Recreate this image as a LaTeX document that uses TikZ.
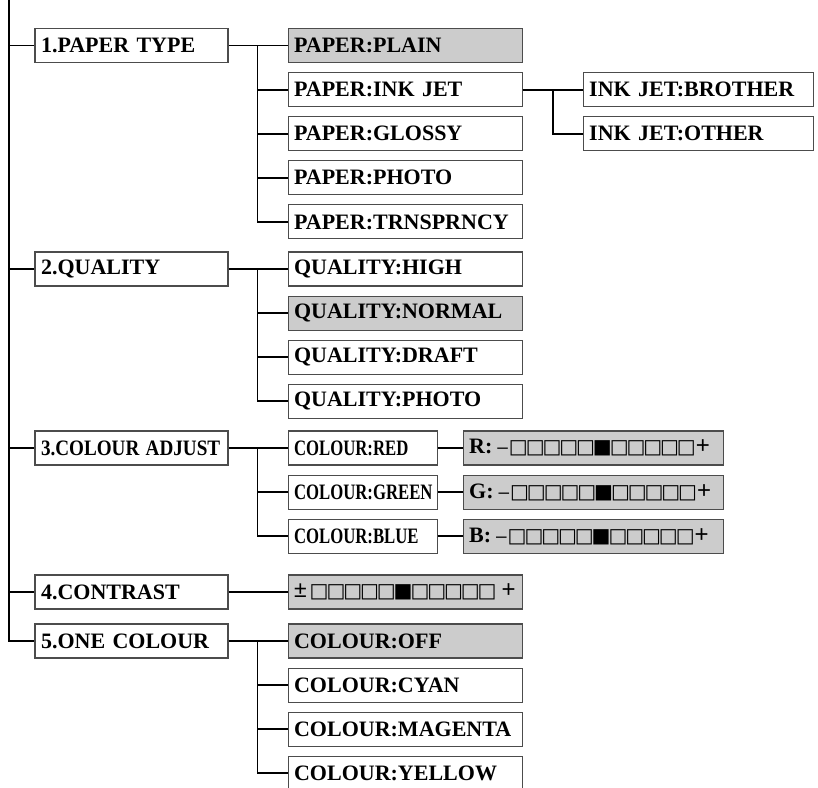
\documentclass[tikz,border=0pt]{standalone}
\usepackage{fontspec}
\usepackage{graphicx}
\setmainfont{Liberation Serif}
\setsansfont{Liberation Sans}
\newfontfamily\symfont{DejaVu Sans}
\usetikzlibrary{positioning}
\newcommand\sqempty{\makebox[16.8pt]{\symfont\mdseries\fontsize{20}{20}\selectfont □}}
\newcommand\sqfull{\makebox[16.8pt]{\symfont\mdseries\fontsize{20}{20}\selectfont ■}}
\newcommand\sqrow{\sqempty\sqempty\sqempty\sqempty\sqempty\sqfull\sqempty\sqempty\sqempty\sqempty\sqempty}
\newcommand\signtxt[2]{{\sffamily\mdseries\fontsize{#1}{#1}\selectfont #2}}
\newcommand\levelbar[1]{#1\kern5pt\signtxt{19}{–}\kern2pt\sqrow\kern1pt\signtxt{24}{+}}
\tikzset{
    menu/.style={draw=black!70, line width=1.1pt, fill=white, minimum height=34pt, inner xsep=6pt, inner ysep=0pt, align=left, font=\fontsize{22}{26}\selectfont\bfseries},
    topbox/.style={menu, text width=181pt},
    itembox/.style={menu, text width=222pt},
    subbox/.style={menu, text width=218pt},
    narrowbox/.style={menu, text width=137pt},
    slidebox/.style={menu, fill=black!20, text width=248pt},
    chosen/.style={fill=black!20},
    line/.style={line width=1.8pt},
    trunk/.style={line width=2.4pt}
}

\begin{document}
\begin{tikzpicture}[x=1pt, y=-1pt]
        \useasboundingbox (0,0) rectangle (818,787);
        % top level
        \node [topbox] (paper) at (131.5,45.5) {1.PAPER TYPE};
        \node [topbox] (quality) at (131.5,269) {2.QUALITY};
        \node [topbox] (coladj) at (131.5,448) {\scalebox{0.87}[1]{3.COLOUR ADJUST}};
        \node [topbox] (contrast) at (131.5,592) {4.CONTRAST};
        \node [topbox] (onecol) at (131.5,641) {5.ONE COLOUR};
        % paper type
        \node [itembox, chosen, right=59pt of paper] (plain) {PAPER:PLAIN};
        \node [itembox, below=9pt of plain] (inkjet) {PAPER:INK JET};
        \node [itembox, below=9pt of inkjet] (glossy) {PAPER:GLOSSY};
        \node [itembox, below=9pt of glossy] (photo) {PAPER:PHOTO};
        \node [itembox, below=9pt of photo] (trans) {PAPER:TRNSPRNCY};
        \node [subbox, right=60pt of inkjet] (brother) {INK JET:BROTHER};
        \node [subbox, below=9pt of brother] (other) {INK JET:OTHER};
        % quality
        \node [itembox, right=59pt of quality] (high) {QUALITY:HIGH};
        \node [itembox, chosen, below=9pt of high] (normal) {QUALITY:NORMAL};
        \node [itembox, below=9pt of normal] (draft) {QUALITY:DRAFT};
        \node [itembox, below=9pt of draft] (qphoto) {QUALITY:PHOTO};
        % colour adjust
        \node [narrowbox, right=59pt of coladj] (red) {\scalebox{0.76}[1]{COLOUR:RED}};
        \node [narrowbox, below=9pt of red] (green) {\scalebox{0.76}[1]{COLOUR:GREEN}};
        \node [narrowbox, below=9pt of green] (blue) {\scalebox{0.76}[1]{COLOUR:BLUE}};
        \node [slidebox, right=25pt of red] (rbar) {\levelbar{R:}};
        \node [slidebox, right=25pt of green] (gbar) {\levelbar{G:}};
        \node [slidebox, right=25pt of blue] (bbar) {\levelbar{B:}};
        % contrast
        \node [slidebox, text width=222pt, right=59pt of contrast] (cbar) {\signtxt{23}{±}\kern4pt\sqrow\kern6pt\signtxt{24}{+}};
        % one colour
        \node [itembox, chosen, right=59pt of onecol] (off) {COLOUR:OFF};
        \node [itembox, below=9pt of off] (cyan) {COLOUR:CYAN};
        \node [itembox, below=9pt of cyan] (magenta) {COLOUR:MAGENTA};
        \node [itembox, below=9pt of magenta] (yellow) {COLOUR:YELLOW};

        \coordinate (top) at (9,0);
        \draw [trunk] (top) |- (onecol);
        \draw [line] (top |- paper) -- (paper);
        \draw [line] (top |- quality) -- (quality);
        \draw [line] (top |- coladj) -- (coladj);
        \draw [line] (top |- contrast) -- (contrast);

        \coordinate (fork1) at ([xshift=-30pt]plain.west);
        \draw [line] (paper) -- (plain);
        \draw [line] (fork1) |- (trans);
        \draw [line] (fork1 |- inkjet) -- (inkjet);
        \draw [line] (fork1 |- glossy) -- (glossy);
        \draw [line] (fork1 |- photo) -- (photo);

        \coordinate (fork2) at ([xshift=-30pt]brother.west);
        \draw [line] (inkjet) -- (brother);
        \draw [line] (fork2) |- (other);

        \coordinate (fork3) at ([xshift=-30pt]high.west);
        \draw [line] (quality) -- (high);
        \draw [line] (fork3) |- (qphoto);
        \draw [line] (fork3 |- normal) -- (normal);
        \draw [line] (fork3 |- draft) -- (draft);

        \coordinate (fork4) at ([xshift=-30pt]red.west);
        \draw [line] (coladj) -- (red);
        \draw [line] (fork4) |- (blue);
        \draw [line] (fork4 |- green) -- (green);
        \draw [line] (red) -- (rbar);
        \draw [line] (green) -- (gbar);
        \draw [line] (blue) -- (bbar);

        \draw [line] (contrast) -- (cbar);

        \coordinate (fork5) at ([xshift=-30pt]off.west);
        \draw [line] (onecol) -- (off);
        \draw [line] (fork5) |- (yellow);
        \draw [line] (fork5 |- cyan) -- (cyan);
        \draw [line] (fork5 |- magenta) -- (magenta);
    \end{tikzpicture}
\end{document}
